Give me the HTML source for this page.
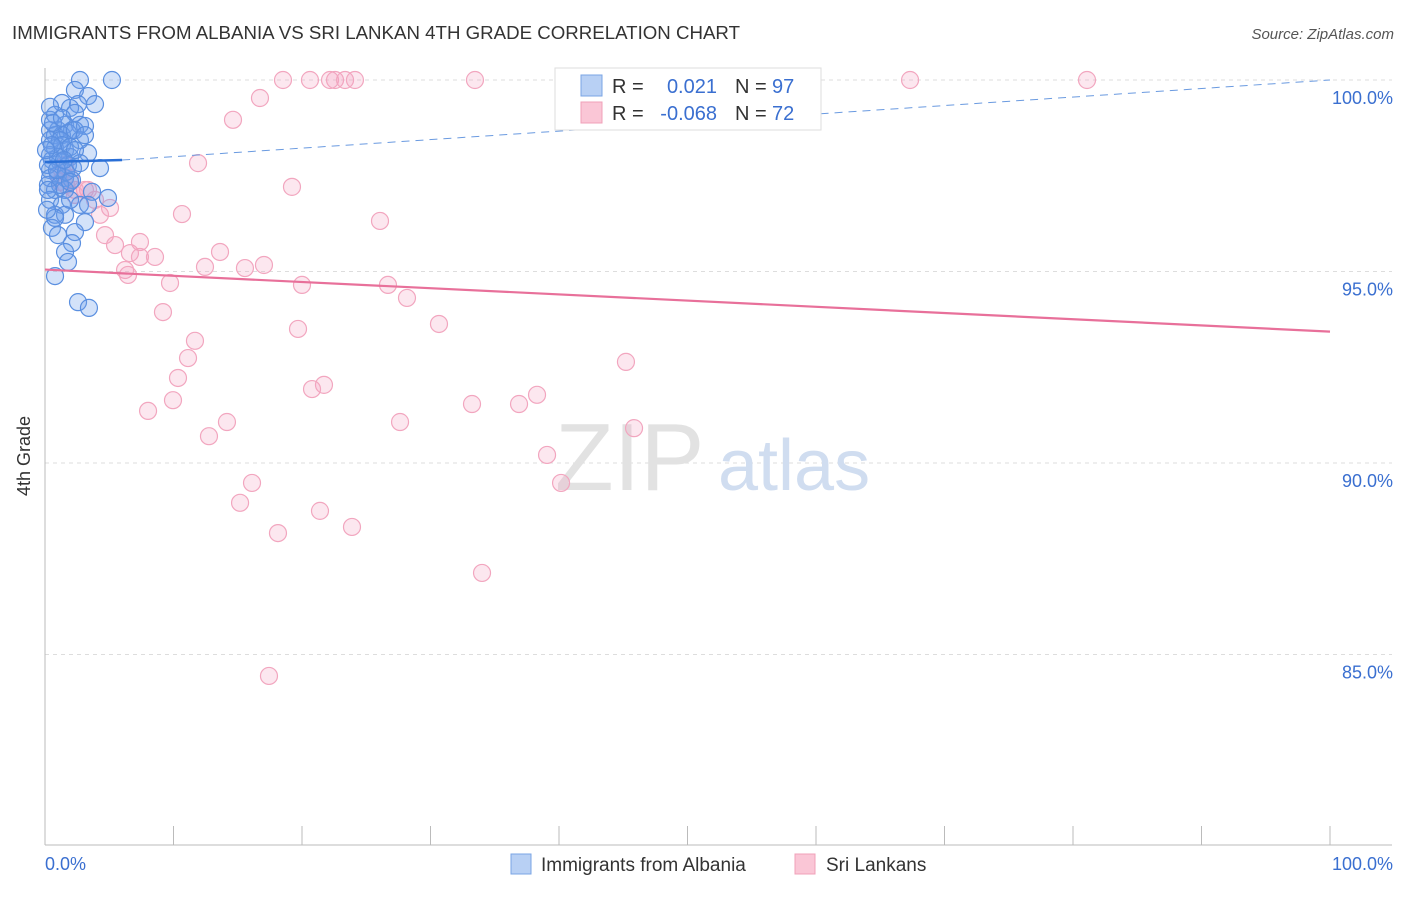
<!DOCTYPE html>
<html><head><meta charset="utf-8"><style>
body{margin:0;background:#fff;font-family:"Liberation Sans",sans-serif;}
svg text{font-family:"Liberation Sans",sans-serif;}
</style></head><body>
<svg id="chart" width="1406" height="892" xmlns="http://www.w3.org/2000/svg">
<text x="12" y="39" font-size="18" fill="#333" textLength="728" lengthAdjust="spacingAndGlyphs">IMMIGRANTS FROM ALBANIA VS SRI LANKAN 4TH GRADE CORRELATION CHART</text>
<text x="1394" y="39" font-size="15" fill="#555" text-anchor="end" font-style="italic">Source: ZipAtlas.com</text>
<text x="30" y="456" font-size="18" fill="#333" transform="rotate(-90 30 456)" text-anchor="middle">4th Grade</text>
<g id="grid"></g>
<g id="axes"></g>
<text x="555" y="490" font-size="96" fill="#e2e2e2" font-family="Liberation Serif">ZIP</text>
<text x="718" y="490" font-size="72" fill="#d0ddf0">atlas</text>
<g id="pts"></g>
<g id="lines"></g>
<g>
<rect x="555" y="68" width="266" height="62" fill="#fff" stroke="#ddd"/>
<rect x="581" y="75" width="21" height="21" fill="#b8d0f4" stroke="#7aa4e4"/>
<rect x="581" y="102" width="21" height="21" fill="#fac6d6" stroke="#f0a0b8"/>
<text x="612" y="93" font-size="20" fill="#333">R =</text><text x="717" y="93" font-size="20" fill="#3a6fd0" text-anchor="end">0.021</text>
<text x="735" y="93" font-size="20" fill="#333">N =</text><text x="772" y="93" font-size="20" fill="#3a6fd0">97</text>
<text x="612" y="120" font-size="20" fill="#333">R =</text><text x="717" y="120" font-size="20" fill="#3a6fd0" text-anchor="end">-0.068</text>
<text x="735" y="120" font-size="20" fill="#333">N =</text><text x="772" y="120" font-size="20" fill="#3a6fd0">72</text>
</g>
<g>
<rect x="511" y="854" width="20" height="20" fill="#b8d0f4" stroke="#7aa4e4"/>
<text x="541" y="871" font-size="19" fill="#333">Immigrants from Albania</text>
<rect x="795" y="854" width="20" height="20" fill="#fac6d6" stroke="#f0a0b8"/>
<text x="826" y="871" font-size="19" fill="#333">Sri Lankans</text>
</g>
<text x="45" y="870" font-size="18" fill="#3a6fd0">0.0%</text>
<text x="1393" y="870" font-size="18" fill="#3a6fd0" text-anchor="end">100.0%</text>
</svg>
<script>
const yTicks=[100,95,90,85];
const yTickLabels=["100.0%","95.0%","90.0%","85.0%"];
const blueTrend=[[0,97.86],[6,97.91],[100,100.0]];
const pinkTrend=[[0,95.05],[100,93.43]];
const bluePx=[[80,80],[112,80],[75,90],[88,96],[62,103],[78,104],[95,104],[70,108],[55,115],[75,113],[50,120],[65,125],[80,125],[58,130],[72,130],[50,130],[55,135],[62,135],[68,133],[85,126],[50,140],[60,140],[80,140],[55,148],[65,150],[50,155],[70,157],[88,153],[52,160],[60,162],[68,165],[100,168],[50,170],[58,175],[65,178],[72,180],[48,185],[55,190],[65,190],[92,192],[108,198],[50,200],[62,205],[80,205],[88,205],[55,215],[65,215],[85,222],[52,228],[58,235],[75,232],[72,243],[65,252],[68,262],[55,276],[78,302],[89,308],[48,165],[50,178],[60,185],[70,200],[55,218],[47,210],[75,130],[62,145],[58,157],[66,172],[73,168],[52,145],[80,163],[70,147],[46,150],[48,190],[53,123],[85,135],[62,118],[75,150],[57,170],[64,160],[70,182],[50,107]];
const pinkPx=[[283,80],[310,80],[330,80],[335,80],[345,80],[355,80],[475,80],[580,80],[910,80],[1087,80],[260,98],[233,120],[198,163],[292,187],[380,221],[182,214],[110,208],[100,215],[75,190],[85,190],[105,235],[115,245],[140,242],[130,253],[155,257],[140,257],[125,270],[128,275],[205,267],[220,252],[245,268],[264,265],[170,283],[302,285],[388,285],[407,298],[163,312],[298,329],[439,324],[195,341],[188,358],[178,378],[626,362],[324,385],[312,389],[148,411],[173,400],[227,422],[209,436],[400,422],[472,404],[519,404],[537,395],[634,428],[547,455],[252,483],[240,503],[320,511],[561,483],[278,533],[352,527],[482,573],[269,676],[65,165],[58,175],[60,182],[70,178],[88,190],[62,170],[75,195],[95,200],[66,185]];
const blueX=bluePx.map(p=>+((p[0]-45)/12.85).toFixed(2));
const blueY=bluePx.map(p=>+(100-(p[1]-80)/38.3).toFixed(2));
const pinkX=pinkPx.map(p=>+((p[0]-45)/12.85).toFixed(2));
const pinkY=pinkPx.map(p=>+(100-(p[1]-80)/38.3).toFixed(2));
const NS="http://www.w3.org/2000/svg";
function sx(v){return 45+v*12.85;}
function sy(v){return 80+(100-v)*38.3;}
function mk(t,a,parent){const e=document.createElementNS(NS,t);for(const k in a)e.setAttribute(k,a[k]);parent.appendChild(e);return e;}
const grid=document.getElementById('grid'),axes=document.getElementById('axes'),pts=document.getElementById('pts'),lines=document.getElementById('lines');
yTicks.forEach((t,i)=>{
 const l=mk('line',{x1:45,x2:1392,y1:sy(t),y2:sy(t),stroke:'#ddd','stroke-dasharray':'4,4'},grid);
 
 
 const tx=mk('text',{x:1393,y:sy(t)+24,'font-size':18,fill:'#3a6fd0','text-anchor':'end'},axes);
 tx.textContent=yTickLabels[i];
 
 
});
mk('line',{x1:45,x2:45,y1:68,y2:845,stroke:'#bbb'},axes);
mk('line',{x1:45,x2:1392,y1:845,y2:845,stroke:'#bbb'},axes);
for(let i=0;i<=10;i++){
 const tk=mk('line',{x1:sx(i*10),x2:sx(i*10),y1:826,y2:845,stroke:'#bbb'},axes);
 
 
}
pinkX.forEach((x,i)=>{
 const c=mk('circle',{cx:sx(x),cy:sy(pinkY[i]),r:8.5,fill:'rgba(245,160,190,0.25)',stroke:'#f2a6bf','stroke-width':1.2},pts);
 
 
});
blueX.forEach((x,i)=>{
 const c=mk('circle',{cx:sx(x),cy:sy(blueY[i]),r:8.5,fill:'rgba(110,160,235,0.3)',stroke:'#5a8fe0','stroke-width':1.2},pts);
 
 
});
const b1=mk('line',{x1:sx(blueTrend[0][0]),y1:sy(blueTrend[0][1]),x2:sx(blueTrend[1][0]),y2:sy(blueTrend[1][1]),stroke:'#2a6fd6','stroke-width':2.5},lines);


const b2=mk('line',{x1:sx(blueTrend[1][0]),y1:sy(blueTrend[1][1]),x2:sx(blueTrend[2][0]),y2:sy(blueTrend[2][1]),stroke:'#6a9ae0','stroke-width':1,'stroke-dasharray':'8,6'},lines);


const p1=mk('line',{x1:sx(pinkTrend[0][0]),y1:sy(pinkTrend[0][1]),x2:sx(pinkTrend[1][0]),y2:sy(pinkTrend[1][1]),stroke:'#e8709a','stroke-width':2.2},lines);


</script>
</body></html>
